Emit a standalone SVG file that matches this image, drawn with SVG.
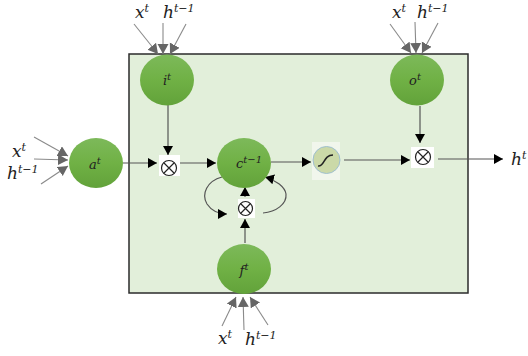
<svg xmlns="http://www.w3.org/2000/svg" width="528" height="356" viewBox="0 0 528 356">
<defs>
<linearGradient id="g" x1="0" y1="0" x2="0" y2="1"><stop offset="0" stop-color="#7db95a"/><stop offset="0.5" stop-color="#70b145"/><stop offset="1" stop-color="#62a23a"/></linearGradient>
<marker id="k" markerUnits="userSpaceOnUse" markerWidth="12" markerHeight="12" refX="9" refY="5" orient="auto"><path d="M0 0L9 5L0 10Z" fill="#000"/></marker>
<marker id="y" markerUnits="userSpaceOnUse" markerWidth="12" markerHeight="12" refX="10" refY="5.500" orient="auto"><path d="M0 0L10 5.500L0 11Z" fill="#666"/></marker>
</defs>
<style>
.n{fill:url(#g)}
.t{font-family:"DejaVu Serif","Liberation Serif",serif;font-style:italic;fill:#222}
.l{font-size:17px}
.i{font-size:13px;text-anchor:middle}
.a{stroke:#555;stroke-width:1.2;fill:none;marker-end:url(#k)}
.g{stroke:#8a8a8a;stroke-width:1.1;fill:none;marker-end:url(#y)}
.o{fill:none;stroke:#222;stroke-width:1.2}
</style>
<rect id="box" x="129" y="54" width="339" height="239" fill="#e2efda" stroke="#2b2b2b" stroke-width="1.5"/>
<g id="connectors">
<path class="g" d="M134 24L158 54"/><path class="g" d="M163 23L163 54"/><path class="g" d="M186 24L170 54"/>
<path class="g" d="M34 137L68 156"/><path class="g" d="M34 159L68 160"/><path class="g" d="M41 184L68 166"/>
<path class="g" d="M390 24L411 53"/><path class="g" d="M415 22L416 53"/><path class="g" d="M438 23L422 53"/>
<path class="g" d="M222 326L236 297"/><path class="g" d="M244 330L243 297"/><path class="g" d="M268 325L250 297"/>
<path class="a" d="M168 105L168 155"/><path class="a" d="M123 163L157 163"/><path class="a" d="M180 163L216 163"/>
<path class="a" d="M271 162L311 162"/><path class="a" d="M344 160L410 160"/><path class="a" d="M420 106L420 143"/>
<path class="a" d="M438 159L503 159"/>
<path class="a" d="M245 243L245 219"/><path class="a" d="M245 197L245 187"/>
<path class="a" d="M222 177C207 181 201 194 207 204C211 210 218 214 227 214"/>
<path class="a" d="M263 213C276 212 287 204 286 194C285 187 276 180 265 177"/>
</g>
<g id="node-i"><ellipse class="n" cx="167" cy="80" rx="27" ry="25.500"/><text class="t i" x="167" y="85">i<tspan dy="-5" font-size="10">t</tspan></text></g>
<g id="node-a"><ellipse class="n" cx="96" cy="163" rx="27" ry="25"/><text class="t i" x="95" y="169">a<tspan dy="-5" font-size="10">t</tspan></text></g>
<g id="node-c"><ellipse class="n" cx="244" cy="163" rx="27" ry="25"/><text class="t i" x="249" y="168">c<tspan dy="-5" font-size="10">t−1</tspan></text></g>
<g id="node-f"><ellipse class="n" cx="244" cy="269" rx="27" ry="25"/><text class="t i" x="244" y="275">f<tspan dy="-5" font-size="10">t</tspan></text></g>
<g id="node-o"><ellipse class="n" cx="417" cy="80" rx="27" ry="25.500"/><text class="t i" x="415" y="85">o<tspan dy="-5" font-size="10">t</tspan></text></g>
<g id="mul-1"><rect x="159" y="155" width="21" height="21" fill="#fff"/><g transform="translate(169 168)"><circle class="o" r="7.500"/><path class="o" d="M-5-5L5 5M-5 5L5-5"/></g></g>
<g id="mul-2"><rect x="238" y="199" width="17" height="19" fill="#fff"/><g transform="translate(245.500 208.500)"><circle class="o" r="7"/><path class="o" d="M-5-5L5 5M-5 5L5-5"/></g></g>
<g id="mul-3"><rect x="411" y="147" width="23" height="21" fill="#fff"/><g transform="translate(423 157)"><circle class="o" r="7.500"/><path class="o" d="M-5-5L5 5M-5 5L5-5"/></g></g>
<g id="sigmoid"><rect x="312" y="142" width="28" height="38" fill="#f1f6ec"/><circle cx="326.500" cy="160" r="13.500" fill="#cbd9a8" stroke="#9fc0cf" stroke-width="1"/><path d="M318 166C325 167 323 155 333 155" fill="none" stroke="#222" stroke-width="1.500"/></g>
<g id="labels">
<text class="t l" x="135" y="18">x<tspan dy="-6" font-size="11">t</tspan></text>
<text class="t l" x="163" y="18">h<tspan dy="-6" font-size="11">t−1</tspan></text>
<text class="t l" x="392" y="18">x<tspan dy="-6" font-size="11">t</tspan></text>
<text class="t l" x="417" y="18">h<tspan dy="-6" font-size="11">t−1</tspan></text>
<text class="t l" x="12" y="157">x<tspan dy="-6" font-size="11">t</tspan></text>
<text class="t l" x="7" y="179">h<tspan dy="-6" font-size="11">t−1</tspan></text>
<text class="t l" x="218" y="344">x<tspan dy="-6" font-size="11">t</tspan></text>
<text class="t l" x="245" y="345">h<tspan dy="-6" font-size="11">t−1</tspan></text>
<text class="t l" x="511" y="165">h<tspan dy="-6" font-size="11">t</tspan></text>
</g>
</svg>
